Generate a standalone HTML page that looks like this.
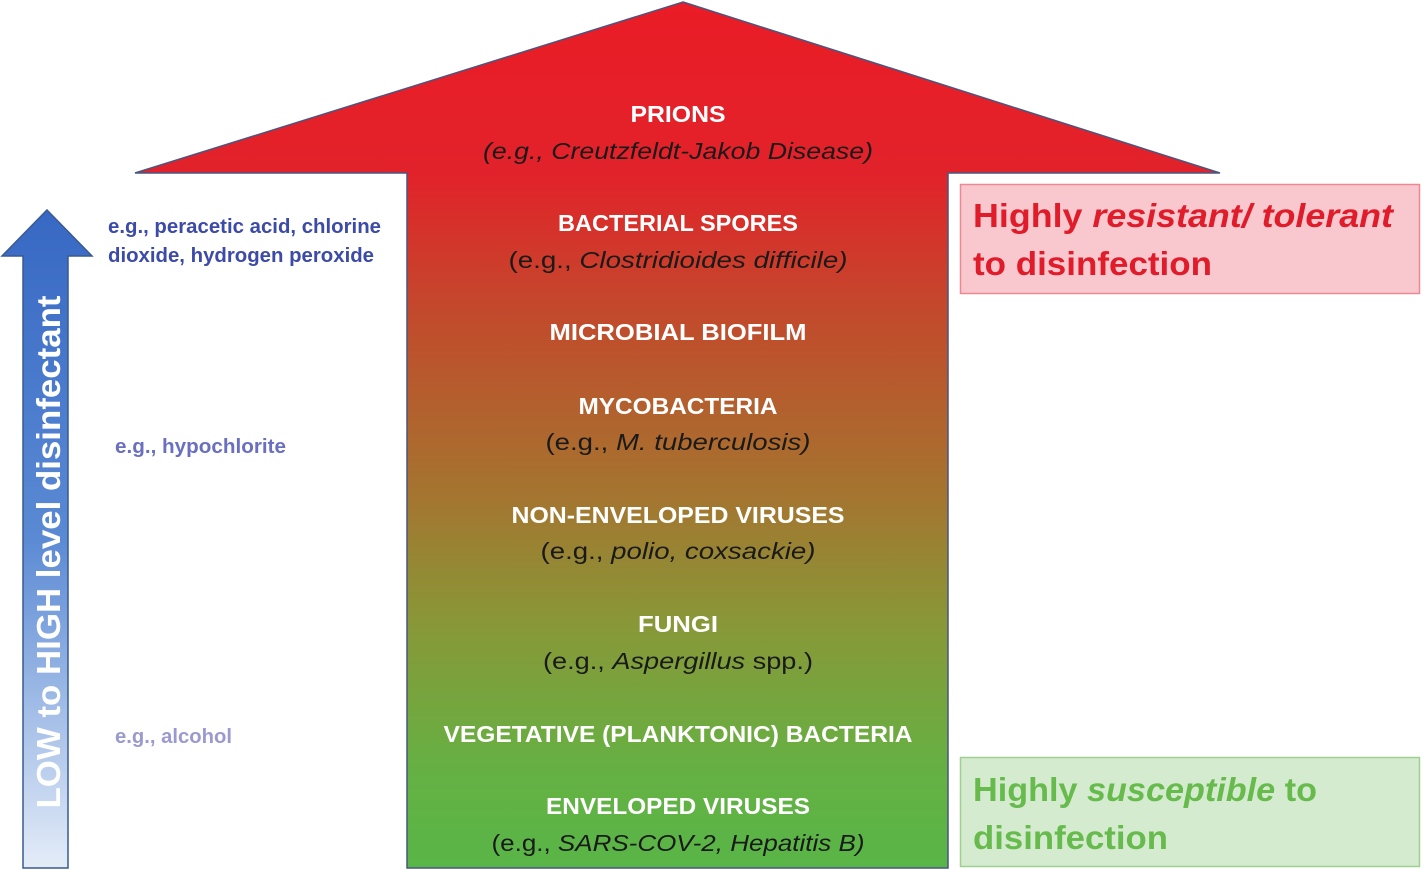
<!DOCTYPE html>
<html><head><meta charset="utf-8"><style>
html,body{margin:0;padding:0;background:#fff;width:1423px;height:870px;overflow:hidden}
svg{display:block}
text{font-family:"Liberation Sans",sans-serif}
.w{fill:#fff;font-weight:bold;font-size:23px}
.k{fill:#1a1a1a;font-size:23px}
</style></head><body>
<svg width="1423" height="870" viewBox="0 0 1423 870" xmlns="http://www.w3.org/2000/svg">
<defs>
<linearGradient id="g" x1="0" y1="0" x2="0" y2="870" gradientUnits="userSpaceOnUse">
<stop offset="0" stop-color="#ea1c26"/>
<stop offset="0.2" stop-color="#e2222a"/>
<stop offset="0.36" stop-color="#c24a2c"/>
<stop offset="0.56" stop-color="#a6732f"/>
<stop offset="0.72" stop-color="#889838"/>
<stop offset="0.88" stop-color="#66b043"/>
<stop offset="1" stop-color="#58b647"/>
</linearGradient>
<linearGradient id="b" x1="0" y1="210" x2="0" y2="868" gradientUnits="userSpaceOnUse">
<stop offset="0" stop-color="#3768c3"/>
<stop offset="0.5" stop-color="#5b8ad4"/>
<stop offset="1" stop-color="#e4ecf8"/>
</linearGradient>
</defs>
<polygon points="683,2 1220,173 948,173 948,868 407,868 407,173 135,173" fill="url(#g)" stroke="#4a5580" stroke-width="1.5"/>
<polygon points="47,210 92,256 68,256 68,868 23,868 23,256 2,256" fill="url(#b)" stroke="#3a5a90" stroke-width="1.5"/>
<text transform="translate(60,552) rotate(-90)" text-anchor="middle" fill="#fff" font-weight="bold" font-size="33" textLength="513" lengthAdjust="spacingAndGlyphs">LOW to HIGH level disinfectant</text>

<text x="108" y="233" fill="#3c4aa8" font-weight="bold" font-size="20" textLength="273" lengthAdjust="spacingAndGlyphs">e.g., peracetic acid, chlorine</text>
<text x="108" y="262" fill="#3c4aa8" font-weight="bold" font-size="20" textLength="266" lengthAdjust="spacingAndGlyphs">dioxide, hydrogen peroxide</text>
<text x="115" y="453" fill="#6a6fc0" font-weight="bold" font-size="20" textLength="171" lengthAdjust="spacingAndGlyphs">e.g., hypochlorite</text>
<text x="115" y="743" fill="#9a9ad0" font-weight="bold" font-size="20" textLength="117" lengthAdjust="spacingAndGlyphs">e.g., alcohol</text>

<g text-anchor="middle">
<text class="w" x="678" y="122" textLength="95" lengthAdjust="spacingAndGlyphs">PRIONS</text>
<text class="k" x="678" y="159" font-style="italic" textLength="390" lengthAdjust="spacingAndGlyphs">(e.g., Creutzfeldt-Jakob Disease)</text>
<text class="w" x="678" y="231" textLength="240" lengthAdjust="spacingAndGlyphs">BACTERIAL SPORES</text>
<text class="k" x="678" y="268" textLength="339" lengthAdjust="spacingAndGlyphs">(e.g., <tspan font-style="italic">Clostridioides difficile)</tspan></text>
<text class="w" x="678" y="340" textLength="257" lengthAdjust="spacingAndGlyphs">MICROBIAL BIOFILM</text>
<text class="w" x="678" y="414" textLength="199" lengthAdjust="spacingAndGlyphs">MYCOBACTERIA</text>
<text class="k" x="678" y="450" textLength="265" lengthAdjust="spacingAndGlyphs">(e.g., <tspan font-style="italic">M. tuberculosis)</tspan></text>
<text class="w" x="678" y="523" textLength="333" lengthAdjust="spacingAndGlyphs">NON-ENVELOPED VIRUSES</text>
<text class="k" x="678" y="559" textLength="275" lengthAdjust="spacingAndGlyphs">(e.g., <tspan font-style="italic">polio, coxsackie)</tspan></text>
<text class="w" x="678" y="632" textLength="80" lengthAdjust="spacingAndGlyphs">FUNGI</text>
<text class="k" x="678" y="669" textLength="270" lengthAdjust="spacingAndGlyphs">(e.g., <tspan font-style="italic">Aspergillus</tspan> spp.)</text>
<text class="w" x="678" y="742" textLength="469" lengthAdjust="spacingAndGlyphs">VEGETATIVE (PLANKTONIC) BACTERIA</text>
<text class="w" x="678" y="814" textLength="264" lengthAdjust="spacingAndGlyphs">ENVELOPED VIRUSES</text>
<text class="k" x="678" y="851" textLength="373" lengthAdjust="spacingAndGlyphs">(e.g., <tspan font-style="italic">SARS-COV-2, Hepatitis B)</tspan></text>
</g>

<rect x="960.5" y="184.5" width="459" height="109" fill="#f9c8cf" stroke="#ec8a94" stroke-width="1.5"/>
<text x="973" y="227" fill="#e01b2a" font-weight="bold" font-size="33" textLength="420" lengthAdjust="spacingAndGlyphs">Highly <tspan font-style="italic">resistant/ tolerant</tspan></text>
<text x="973" y="275" fill="#e01b2a" font-weight="bold" font-size="33" textLength="239" lengthAdjust="spacingAndGlyphs">to disinfection</text>

<rect x="960.5" y="757.5" width="459" height="109" fill="#d4ebd0" stroke="#9fd08f" stroke-width="1.5"/>
<text x="973" y="801" fill="#67bb4c" font-weight="bold" font-size="33" textLength="344" lengthAdjust="spacingAndGlyphs">Highly <tspan font-style="italic">susceptible</tspan> to</text>
<text x="973" y="849" fill="#67bb4c" font-weight="bold" font-size="33" textLength="195" lengthAdjust="spacingAndGlyphs">disinfection</text>
</svg>
</body></html>
